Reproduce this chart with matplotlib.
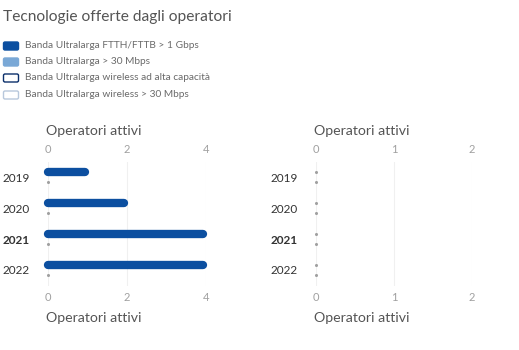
import matplotlib
matplotlib.use("Agg")
import matplotlib.pyplot as plt
from matplotlib.patches import FancyBboxPatch
from matplotlib.transforms import IdentityTransform

years = ["2019", "2020", "2021", "2022"]
bold_year = "2021"
series_names = [
    "Banda Ultralarga FTTH/FTTB > 1 Gbps",
    "Banda Ultralarga > 30 Mbps",
    "Banda Ultralarga wireless ad alta capacità",
    "Banda Ultralarga wireless > 30 Mbps",
]
ftth = [1, 2, 4, 4]
ultra30 = [0, 0, 0, 0]
wireless_high = [0, 0, 0, 0]
wireless30 = [0, 0, 0, 0]
left_ticks = [0, 2, 4]
right_ticks = [0, 1, 2]
axis_label = "Operatori attivi"
title = "Tecnologie offerte dagli operatori"

DARK = "#0c4fa0"
LIGHT = "#7aa8d6"
FONT = ["Lato", "DejaVu Sans"]
plt.rcParams["font.family"] = FONT

W, H = 519, 350
fig = plt.figure(figsize=(W / 100, H / 100), dpi=100)

def px_axes(x0, x1, ytop, ybot):
    return fig.add_axes([x0 / W, 1 - ybot / H, (x1 - x0) / W, (ybot - ytop) / H])

def draw_panel(ax, s1, s2, c1, c2, ticks, xmax, width_px):
    n = len(years)
    trim = 3.0 * xmax / width_px  # keep the rounded right cap near the value
    for i in range(n):
        for vals, off, col in ((s1, -0.15, c1), (s2, 0.15, c2)):
            v = vals[i]
            y = i + off
            if v > 0:
                ax.plot([0, v - trim], [y, y], color=col, lw=6.0, solid_capstyle="round",
                        zorder=3, clip_on=False)
            else:
                ax.plot([0], [y], marker="o", ms=2.2, color="#a0a0a0", mec="none",
                        zorder=3, clip_on=False)
    ax.set_xlim(0, xmax)
    ax.set_ylim(n - 0.5, -0.5)
    ax.set_yticks(range(n))
    ax.set_yticklabels(years)
    for lab in ax.get_yticklabels():
        lab.set_color("#333333")
        lab.set_fontsize(8.5)
        if lab.get_text() == bold_year:
            lab.set_fontweight("bold")
    ax.set_xticks(ticks)
    ax.set_xticklabels([str(t) for t in ticks])
    ax.tick_params(axis="y", length=0, pad=13)
    ax.tick_params(axis="x", length=0, pad=5, labelsize=8, labelcolor="#a0a0a0",
                   top=True, labeltop=True, bottom=True, labelbottom=True)
    for sp in ax.spines.values():
        sp.set_visible(False)
    ax.grid(axis="x", color="#f0f0f0", lw=0.8)
    ax.set_axisbelow(True)
    ax.text(-0.012, 1.0 + 31 / 124, axis_label, transform=ax.transAxes, ha="left",
            va="center", fontsize=10.2, color="#555555")
    ax.text(-0.012, -33 / 124, axis_label, transform=ax.transAxes, ha="left",
            va="center", fontsize=10.2, color="#555555")

axL = px_axes(48, 206, 161.5, 285.5)
axR = px_axes(316, 472, 161.5, 285.5)
draw_panel(axL, ftth, ultra30, DARK, LIGHT, left_ticks, 4, 158)
draw_panel(axR, wireless_high, wireless30, "#0b2f6b", "#b8c8dc", right_ticks, 2, 156)

fig.text(3 / W, 1 - 17 / H, title, fontsize=11.2, color="#555555",
         ha="left", va="center")

# legend
tr = IdentityTransform()
leg_y = [46, 62, 78, 95]
styles = [
    dict(fc=DARK, ec=DARK),
    dict(fc=LIGHT, ec=LIGHT),
    dict(fc="white", ec="#0b2f6b"),
    dict(fc="white", ec="#b8c8dc"),
]
for y, name, st in zip(leg_y, series_names, styles):
    yy = H - y
    p = FancyBboxPatch((5, yy - 2.5), 12, 5, boxstyle="round,pad=1.5",
                       transform=tr, lw=1.0, **st)
    fig.add_artist(p)
    fig.text(25 / W, 1 - y / H, name, fontsize=7.3, color="#6a6a6a",
             ha="left", va="center")

fig.savefig("out.png", dpi=100)
